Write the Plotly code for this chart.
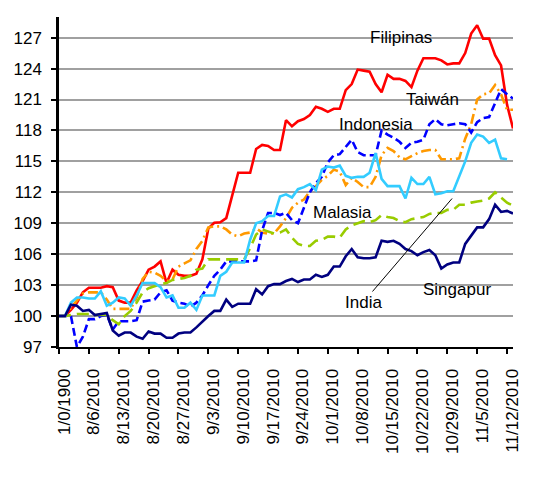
import plotly.graph_objects as go

tick_labels = ["1/0/1900", "8/6/2010", "8/13/2010", "8/20/2010", "8/27/2010", "9/3/2010",
               "9/10/2010", "9/17/2010", "9/24/2010", "10/1/2010", "10/8/2010", "10/15/2010",
               "10/22/2010", "10/29/2010", "11/5/2010", "11/12/2010"]

filipinas = [100, 100, 100.6, 101.3, 102.3, 102.75, 102.75, 102.75, 102.9, 102.8,
             101.5, 101.3, 101.3, 102.5, 103.4, 104.5, 104.8, 105.3, 103.2, 104.5,
             104.0, 103.9, 103.9, 104.1, 105.5, 108.5, 109.05, 109.1, 109.5, 111.8,
             113.9, 113.9, 113.9, 116.2, 116.6, 116.5, 116.1, 116.1, 119.0, 118.4,
             118.9, 119.1, 119.5, 120.3, 120.1, 119.8, 120.1, 120.1, 121.9, 122.5,
             123.9, 123.8, 123.7, 122.5, 121.7, 123.4, 123.0, 123.0, 122.8, 122.2,
             123.8, 125.0, 125.0, 125.0, 124.8, 124.4, 124.5, 124.5, 125.5, 127.4,
             128.2, 126.9, 126.9, 125.3, 124.3, 120.5, 118.2]

taiwan = [100, 100, 100.8, 101.5, 102.2, 102.3, 102.3, 102.3, 101.6, 100.7,
          100.7, 100.7, 100.7, 101.8, 103.6, 104.3, 104.2, 103.9, 103.4, 103.55,
          104.8, 105.1, 105.4, 106.5, 107.3, 108.6, 108.7, 108.7, 108.4, 107.9,
          107.75, 108.0, 108.1, 108.5, 108.1, 108.0, 108.0, 108.7, 109.5, 110.5,
          111.0, 111.3, 112.1, 112.6, 113.2, 113.6, 114.2, 114.0, 112.7, 113.4,
          113.0, 112.5, 112.5, 113.5, 115.6, 116.3, 116.0, 115.4, 115.2, 115.5,
          115.8, 116.0, 116.1, 116.1, 115.2, 115.2, 115.2, 115.3, 117.2, 118.6,
          121.0, 121.5, 121.6, 122.4, 121.5, 120.0, 120.0]

indonesia = [100, 100, 100, 97.0, 98.0, 99.7, 99.7, 100.0, 100.1, 98.7,
             99.5, 99.5, 99.5, 99.6, 101.4, 101.5, 101.6, 102.3, 102.5, 101.5,
             101.3, 101.2, 100.9, 101.3, 102.0, 103.0, 103.9, 104.5, 105.3, 105.3,
             105.3, 105.3, 105.3, 105.4, 108.3, 110.0, 110.0, 109.8, 110.0, 109.3,
             109.0, 110.5, 112.0, 112.9, 113.5, 114.9, 115.6, 115.7, 116.4, 117.1,
             115.9, 115.6, 115.6, 115.6, 118.0, 117.6, 117.3, 116.9, 116.3, 116.8,
             116.9, 117.1, 118.6, 119.1, 118.6, 118.5, 118.6, 118.7, 118.6, 117.8,
             118.8, 119.2, 119.3, 120.6, 122.0, 121.5, 121.1]

malasia = [100, 100, 100.1, 100.2, 100.2, 100.2, 100.1, 100.1, 100.1, 99.6,
           99.2, 100.0, 100.5, 101.3, 102.3, 102.7, 102.9, 103.1, 103.2, 103.5,
           103.6, 103.7, 103.9, 104.5, 104.6, 105.5, 105.5, 105.5, 105.5, 105.5,
           105.5, 105.5, 106.6, 107.9, 108.4, 108.2, 108.0, 108.1, 108.4, 107.6,
           107.0, 106.8, 106.8, 107.3, 107.4, 107.7, 107.7, 107.6, 108.4, 108.8,
           109.0, 109.2, 109.1, 109.3, 109.8, 109.6, 109.5, 109.2, 109.1, 109.4,
           109.5, 109.6, 109.9, 110.0, 110.0, 110.3, 110.3, 110.8, 110.8, 111.0,
           111.1, 111.2, 111.4, 112.0, 111.5, 111.0, 110.7]

india = [100, 100, 101.3, 101.8, 101.8, 101.7, 101.7, 102.4, 101.0, 101.3,
         101.8, 101.7, 101.0, 102.0, 103.2, 103.2, 103.2, 102.8, 101.8, 102.0,
         100.8, 100.8, 101.3, 100.6, 102.0, 102.0, 102.0, 103.9, 104.3, 105.2,
         105.2, 105.2, 107.4, 109.0, 109.2, 109.7, 109.7, 111.6, 111.8, 111.5,
         112.3, 112.5, 112.8, 112.2, 114.2, 114.5, 114.4, 114.6, 113.6, 113.4,
         113.5, 113.5, 113.9, 115.8, 113.3, 112.6, 112.6, 112.6, 111.4, 113.4,
         112.8, 112.8, 113.5, 111.8, 111.9, 112.1, 112.1, 113.5, 115.0, 116.8,
         117.6, 117.4, 116.8, 117.1, 115.3, 115.2, None]

singapur = [100, 100, 101.1, 101.0, 100.5, 100.6, 100.1, 100.2, 100.3, 98.6,
            98.1, 98.4, 98.4, 98.0, 97.8, 98.5, 98.3, 98.3, 97.9, 97.9,
            98.3, 98.4, 98.4, 98.9, 99.5, 100.0, 100.5, 100.5, 101.6, 100.9,
            101.2, 101.2, 101.2, 102.6, 102.1, 102.9, 103.1, 103.1, 103.4, 103.6,
            103.3, 103.55, 103.55, 104.0, 103.8, 104.0, 104.8, 104.8, 105.8, 106.5,
            105.7, 105.6, 105.6, 105.7, 107.3, 107.2, 107.3, 107.0, 106.5, 106.3,
            105.9, 106.2, 106.4, 105.9, 104.6, 105.0, 105.2, 105.2, 107.0, 107.8,
            108.6, 108.6, 109.4, 110.8, 110.1, 110.2, 109.95]

n = len(filipinas)
xs = list(range(n))
tick_pos = list(range(0, n, 5))[:len(tick_labels)]

FONT = "Arial, 'Liberation Sans', sans-serif"

series = [
    ("Filipinas", filipinas, "#FF0000", "solid"),
    ("Taiwán", taiwan, "#FF9900", "10px,4px,2px,4px"),
    ("Indonesia", indonesia, "#0000FF", "8px,4px"),
    ("Malasia", malasia, "#99CC00", "12px,6px"),
    ("India", india, "#33CCFF", "solid"),
    ("Singapur", singapur, "#000080", "solid"),
]

fig = go.Figure()
for name, vals, col, dash in series:
    fig.add_trace(go.Scatter(x=xs, y=vals, mode="lines", name=name,
                             line=dict(color=col, width=2.6, dash=dash),
                             connectgaps=False))

labels = [
    ("Filipinas", 57.3, 127.0),
    ("Taiwán", 62.6, 121.0),
    ("Indonesia", 53.1, 118.6),
    ("Malasia", 47.4, 110.05),
    ("Singapur", 66.7, 102.6),
]
annotations = [dict(text=t, x=x, y=y, xref="x", yref="y", showarrow=False,
                    font=dict(family=FONT, size=17, color="#000000"))
               for t, x, y in labels]
annotations.append(dict(text="India", x=65.8, y=111.4, xref="x", yref="y",
                        showarrow=True, arrowhead=0, arrowwidth=1, arrowcolor="#000000",
                        ax=-89, ay=104, font=dict(family=FONT, size=17, color="#000000")))

fig.update_layout(
    width=526, height=475,
    margin=dict(l=51, r=21, t=9, b=136, autoexpand=False),
    paper_bgcolor="white", plot_bgcolor="white",
    showlegend=False,
    font=dict(family=FONT, size=17, color="#000000"),
    annotations=annotations,
    xaxis=dict(range=[0, n - 1], tickmode="array", tickvals=tick_pos, ticktext=tick_labels,
               tickangle=-90, ticks="outside", ticklen=5, tickwidth=1.5, tickcolor="#000000",
               ticklabelstandoff=8, ticklabelshift=5,
               showline=True, linecolor="#000000", linewidth=2, showgrid=False, zeroline=False,
               tickfont=dict(family=FONT, size=17)),
    yaxis=dict(range=[97, 129], tickmode="array", tickvals=list(range(97, 128, 3)),
               ticks="outside", ticklen=5, tickwidth=1.5, tickcolor="#000000",
               ticklabelstandoff=6,
               showline=True, linecolor="#000000", linewidth=2.5,
               showgrid=True, gridcolor="#A0A0A0", gridwidth=1.5, zeroline=False,
               tickfont=dict(family=FONT, size=17)),
)

fig.write_html("out.html")
